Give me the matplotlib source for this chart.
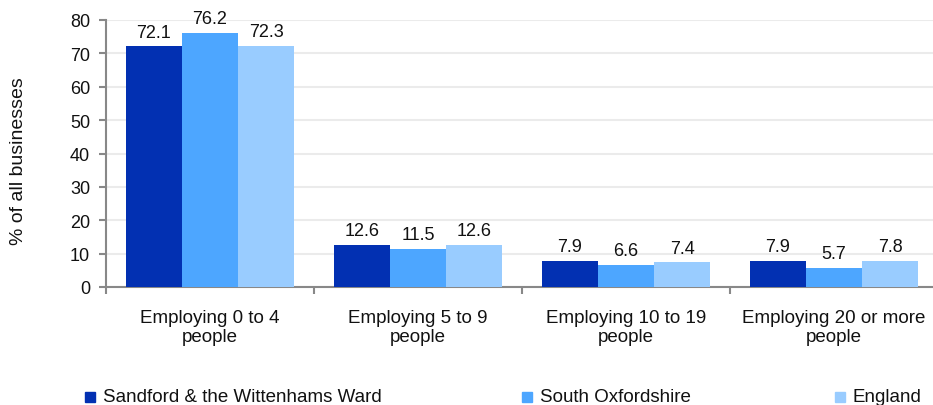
import matplotlib
matplotlib.use("Agg")
import matplotlib.pyplot as plt
import numpy as np
from matplotlib.ticker import FixedLocator, NullFormatter

plt.rcParams['font.family'] = ['Liberation Sans', 'DejaVu Sans']

categories = ["Employing 0 to 4\npeople", "Employing 5 to 9\npeople",
              "Employing 10 to 19\npeople", "Employing 20 or more\npeople"]
series_names = ["Sandford & the Wittenhams Ward", "South Oxfordshire", "England"]
ward = [72.1, 12.6, 7.9, 7.9]
district = [76.2, 11.5, 6.6, 5.7]
england = [72.3, 12.6, 7.4, 7.8]
colors = ["#0230B2", "#4DA6FF", "#99CCFF"]

W, H = 933, 406
fig = plt.figure(figsize=(W / 100, H / 100), dpi=100)
left, right, top, bottom = 106, 933, 21, 288
ax = fig.add_axes([left / W, 1 - bottom / H, (right - left) / W, (bottom - top) / H])

x = np.arange(len(categories))
bw = 0.27
for i, (vals, c) in enumerate(zip([ward, district, england], colors)):
    pos = x + (i - 1) * bw
    ax.bar(pos, vals, width=bw, color=c, zorder=3, linewidth=0)
    for p, v in zip(pos, vals):
        ax.annotate(f"{v:.1f}", (p, v), xytext=(0, 4), textcoords="offset points",
                    ha="center", va="bottom", fontsize=13, color="#111111")

ax.set_ylim(0, 80)
ax.set_xlim(-0.5, 3.5 - 5 / 208)
ax.set_yticks(range(0, 81, 10))
ax.tick_params(axis='y', labelsize=13, length=5, color="#888888", width=1.5, pad=6.5, labelcolor="#111111")
ax.yaxis.grid(True, color="#EBEBEB", linewidth=1.5, zorder=0)
ax.set_axisbelow(True)

ax.xaxis.set_major_locator(FixedLocator([-0.5, 0.5, 1.5, 2.5, 3.5]))
ax.xaxis.set_major_formatter(NullFormatter())
ax.xaxis.set_minor_locator(FixedLocator(x))
ax.set_xticklabels(categories, minor=True, linespacing=1.15)
ax.tick_params(axis='x', which='major', length=5, color="#888888", width=1.5, direction='out')
ax.tick_params(axis='x', which='minor', length=0, labelsize=13.5, pad=16, labelcolor="#111111")

for s in ["top", "right"]:
    ax.spines[s].set_visible(False)
for s in ["left", "bottom"]:
    ax.spines[s].set_color("#888888")
    ax.spines[s].set_linewidth(1.5)

fig.text(19 / W, 1 - 161 / H, "% of all businesses", rotation=90, ha="center", va="center",
         fontsize=14, color="#111111")

# legend
leg_y = 1 - 398 / H
leg_x = [90, 527, 840]
for lx, name, c in zip(leg_x, series_names, colors):
    fig.patches.append(plt.Rectangle(((lx - 5) / W, leg_y - 5 / H), 10 / W, 10 / H,
                                     transform=fig.transFigure, color=c, figure=fig))
    fig.text((lx + 13) / W, leg_y, name, ha="left", va="center", fontsize=13.5, color="#111111")

fig.savefig("out.png", dpi=100)
